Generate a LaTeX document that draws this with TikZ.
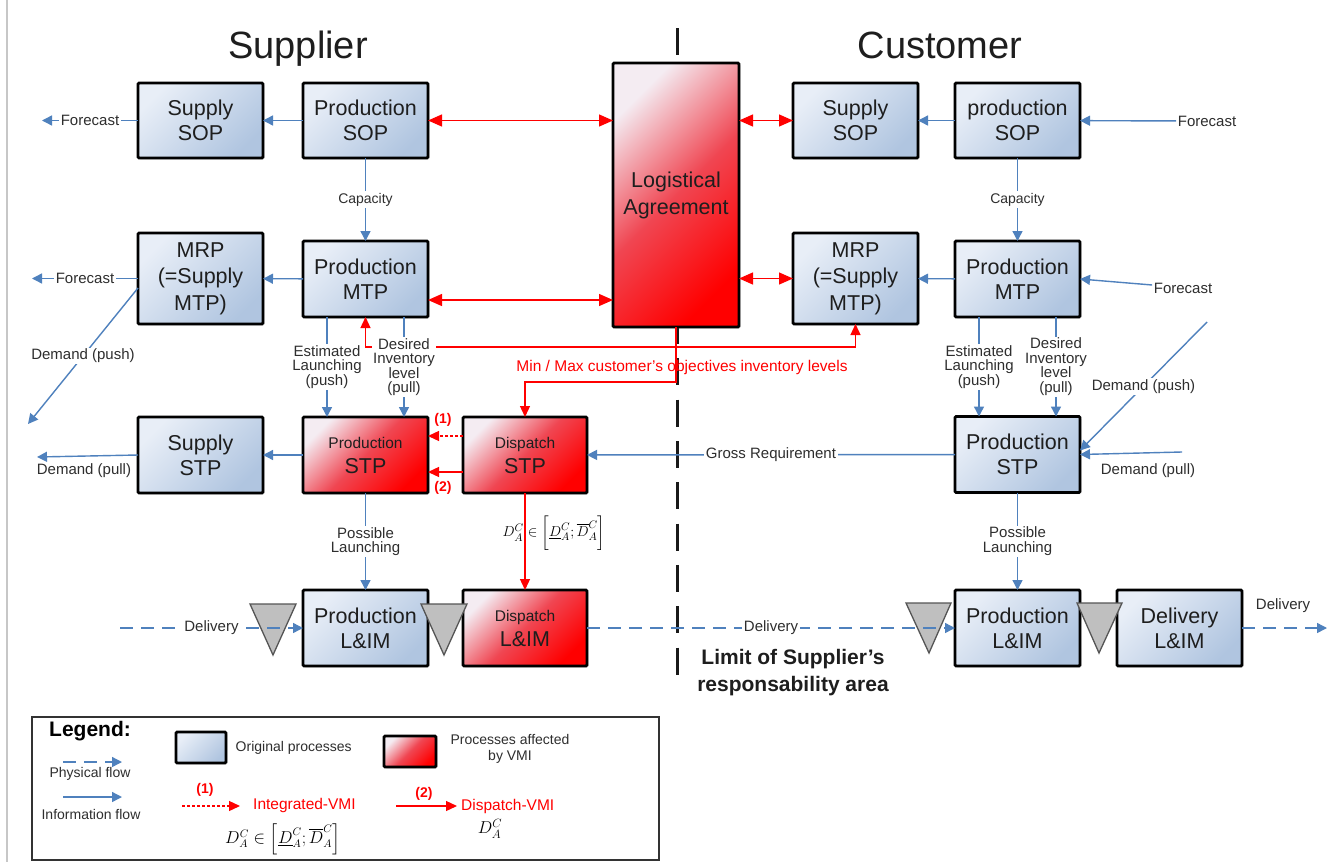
\documentclass[tikz,border=0pt]{standalone}
\usepackage{amsmath}
\usepackage{fontspec}
\setmainfont{Liberation Sans}
\usetikzlibrary{arrows.meta,calc,shadows}
\definecolor{infoblue}{HTML}{4F81BD}
\definecolor{boxlight}{HTML}{E8EEF7}
\definecolor{boxdark}{HTML}{B0C5E0}
\definecolor{redlight}{HTML}{F4ECF2}
\definecolor{redmid}{HTML}{F04652}
\definecolor{vred}{HTML}{FF0000}
\definecolor{txt}{HTML}{1E1E1E}
\definecolor{lbltxt}{HTML}{2E2E2E}
\definecolor{trifill}{HTML}{BFBFBF}
\definecolor{tridraw}{HTML}{555555}
\begin{document}
\begin{tikzpicture}[x=1pt,y=-1pt,
  proc/.style={draw=black, line width=2.8pt, rounded corners=1.2pt, inner sep=0pt, outer sep=0pt,
    align=center, text=txt, top color=boxlight, bottom color=boxdark, shading angle=45,
    font=\fontsize{21.5}{25}\selectfont,
    drop shadow={shadow xshift=1.5pt, shadow yshift=-1.5pt, opacity=0.25}},
  vmi/.style={proc, top color=redlight, bottom color=vred, middle color=redmid, shading angle=45},
  boxsz/.style={minimum width=125pt, minimum height=76pt},
  lbl/.style={font=\fontsize{15}{14.5}\selectfont, text=lbltxt, fill=white, inner sep=1.5pt, align=center},
  lblnf/.style={font=\fontsize{15}{14.5}\selectfont, text=lbltxt, inner sep=1.5pt, align=center},
  info/.style={draw=infoblue, line width=1.4pt, -{Triangle[length=10pt,width=10pt]}},
  phys/.style={info, dash pattern=on 13pt off 8pt},
  rarr/.style={draw=vred, line width=1.3pt, -{Triangle[length=11pt,width=10pt]}},
  rdash/.style={rarr, dash pattern=on 3pt off 2pt},
  rboth/.style={draw=vred, line width=1.3pt, {Triangle[length=14pt,width=12pt]}-{Triangle[length=14pt,width=12pt]}},
  trimark/.style={fill=trifill, draw=tridraw, line width=1.3pt, line join=miter},
  rtxt/.style={text=vred, inner sep=1pt},
]
\useasboundingbox (0,0) rectangle (1336,862);
\fill[white] (0,0) rectangle (1336,862);
% page edge
\draw[black!22, line width=1.5pt] (7,0) -- (7,862);
% titles
\node[anchor=base, font=\fontsize{38}{40}\selectfont, text=txt] (tSup) at (298,58) {Supplier};
\node[anchor=base, font=\fontsize{38}{40}\selectfont, text=txt] (tCus) at (940,58) {Customer};
% limit of responsibility
\draw[black!90, line width=3pt, dash pattern=on 27pt off 14.3pt] (677,28) -- (677,675);

% ---- boxes
\node[proc, boxsz, minimum height=75pt] (sSOP) at (200.5,120.5) {Supply\\SOP};
\node[proc, boxsz, minimum height=75pt] (pSOP) at (365.5,120.5) {Production\\SOP};
\node[proc, boxsz, minimum height=91pt, font=\fontsize{21.5}{26.5}\selectfont] (sMRP) at (200.5,278.5) {MRP\\(=Supply\\MTP)};
\node[proc, boxsz] (pMTP) at (365.5,279) {Production\\MTP};
\node[proc, boxsz] (sSTP) at (200.5,455) {Supply\\STP};
\node[vmi, boxsz] (pSTP) at (365.5,455) {{\fontsize{15.5}{17}\selectfont Production}\\STP};
\node[vmi, boxsz, minimum width=124pt] (dSTP) at (525,455) {{\fontsize{15.5}{17}\selectfont Dispatch}\\STP};
\node[proc, boxsz] (pLIM) at (365.5,628) {Production\\L\&IM};
\node[vmi, boxsz, minimum width=124pt] (dLIM) at (525,628) {{\fontsize{15.5}{17}\selectfont Dispatch}\\L\&IM};
\node[vmi, minimum width=126pt, minimum height=264pt] (LA) at (676,195) {Logistical\\[2pt]Agreement};
\node[proc, boxsz, minimum height=75pt] (cSSOP) at (855.5,120.5) {Supply\\SOP};
\node[proc, boxsz, minimum height=75pt] (cPSOP) at (1017.5,120.5) {production\\SOP};
\node[proc, boxsz, minimum height=91pt, font=\fontsize{21.5}{26.5}\selectfont] (cMRP) at (855.5,278.5) {MRP\\(=Supply\\MTP)};
\node[proc, boxsz] (cPMTP) at (1017.5,279) {Production\\MTP};
\node[proc, boxsz] (cPSTP) at (1017.5,454.5) {Production\\STP};
\node[proc, boxsz] (cPLIM) at (1017.5,628) {Production\\L\&IM};
\node[proc, boxsz] (cDLIM) at (1179.5,628) {Delivery\\L\&IM};

% ---- stock triangles
\draw[trimark] (250,604) -- (296,604) -- (273,655) -- cycle;
\draw[trimark] (421,604) -- (467,604) -- (444,655) -- cycle;
\draw[trimark] (906,603) -- (951,603) -- (929,653) -- cycle;
\draw[trimark] (1077,603) -- (1122,603) -- (1099,653) -- cycle;

% ---- red (VMI) connectors
\draw[rboth] (pSOP.east) -- (LA.west |- pSOP.east);
\coordinate (r2a) at ([yshift=-21pt]pMTP.east);
\draw[rboth] (r2a) -- (r2a -| LA.west);
\draw[rboth] (LA.east |- cSSOP.west) -- (cSSOP.west);
\draw[rboth] (LA.east |- cMRP.west) -- (cMRP.west);
\coordinate (rj) at ([yshift=-20pt]LA.south);
\coordinate (rk) at ([yshift=-55pt]LA.south);
\draw[rarr] (LA.south) -- (rk) -| (dSTP.north);
\draw[rarr] (rj) -| (pMTP.south);
\draw[rarr] (rj) -| (cMRP.south);
\node[rtxt, font=\fontsize{15.5}{18}\selectfont] (mm) at (682,367) {Min / Max customer's objectives inventory levels};
\coordinate (v1) at ([yshift=19pt]dSTP.west);
\draw[rdash] (v1) -- (v1 -| pSTP.east);
\coordinate (v2) at ([yshift=-17pt]dSTP.west);
\draw[rarr] (v2) -- (v2 -| pSTP.east);
\node[rtxt, font=\bfseries\fontsize{14}{16}\selectfont] (n1) at (443,420) {(1)};
\node[rtxt, font=\bfseries\fontsize{14}{16}\selectfont] (n2) at (443,488) {(2)};
\draw[rarr] (dSTP) -- (dLIM);
\node[text=black, inner sep=0pt, font=\fontsize{15}{18}\selectfont] (fm) at (554,533) {$D_A^C \in \biggl[\underline{D}_A^C;\overline{D}_A^C\biggr]$};

% ---- supplier information flows
\coordinate (fcL1) at (42,120.5);
\coordinate (fcL2) at (32,278.5);
\coordinate (dpL) at (28,424);
\coordinate (dlL) at (37,457);
\draw[info] (pSOP) -- (sSOP);
\draw[info] (sSOP) -- node[lbl]{Forecast} (fcL1);
\draw[info] (pSOP) -- node[lbl, font=\fontsize{14}{14}\selectfont]{Capacity} (pMTP);
\draw[info] (pMTP) -- (sMRP);
\draw[info] (sMRP) -- node[lbl]{Forecast} (fcL2);
\draw[info] ([yshift=-9.5pt]sMRP.west) -- node[lbl]{Demand (push)} (dpL);
\draw[info] (sSTP.west) -- (dlL);
\node[lblnf] (dlLt) at (84,471) {Demand (pull)};
\draw[info] (pSTP) -- (sSTP);
\draw[info] ([xshift=-38.5pt]pMTP.south) -- node[lbl]{Estimated\\Launching\\(push)} ([xshift=-38.5pt]pSTP.north);
\draw[info] ([xshift=38.5pt]pMTP.south) -- node[lbl]{Desired\\Inventory\\level\\(pull)} ([xshift=38.5pt]pSTP.north);
\draw[info] (pSTP) -- node[lbl]{Possible\\Launching} (pLIM);
\draw[info] (cPSTP) -- node[lbl]{Gross Requirement} (dSTP);

% ---- customer information flows
\node[lblnf] (fcR1) at (1207,121) {Forecast};
\node[lblnf] (fcR2) at (1183,288) {Forecast};
\coordinate (dpR) at (1207,322);
\coordinate (dlR) at (1182,452);
\draw[info] (cPSOP) -- (cSSOP);
\draw[info] (fcR1) -- (cPSOP);
\draw[info] (cPSOP) -- node[lbl, font=\fontsize{14}{14}\selectfont]{Capacity} (cPMTP);
\draw[info] (cPMTP) -- (cMRP);
\draw[info] ([yshift=3pt]fcR2.west) -- (cPMTP.east);
\draw[info] ([xshift=-38.5pt]cPMTP.south) -- node[lbl]{Estimated\\Launching\\(push)} ([xshift=-38.5pt]cPSTP.north);
\draw[info] ([xshift=38.5pt]cPMTP.south) -- node[lbl]{Desired\\Inventory\\level\\(pull)} ([xshift=38.5pt]cPSTP.north);
\draw[info] (dpR) -- node[lbl]{Demand (push)} ([yshift=4pt]cPSTP.east);
\draw[info] (dlR) -- (cPSTP.east);
\node[lblnf] (dlRt) at (1148,471) {Demand (pull)};
\draw[info] (cPSTP) -- node[lbl]{Possible\\Launching} (cPLIM);

% ---- physical flows
\coordinate (dl0) at (120,628);
\coordinate (dlE) at (1327,628);
\draw[phys] (dl0) -- node[lbl]{Delivery} (pLIM);
\draw[phys] (dLIM) -- node[lbl]{Delivery} (cPLIM);
\draw[phys] (cDLIM) -- (dlE);
\node[lblnf] (dlEt) at (1283,606) {Delivery};

\node[font=\bfseries\fontsize{21}{27}\selectfont, text=txt, align=center] (lim) at (793,673) {Limit of Supplier’s\\responsability area};

% ---- legend
\draw[black!80, line width=1.3pt] (32,717) rectangle (659,860);
\node[font=\bfseries\fontsize{21}{24}\selectfont, text=black, inner sep=0pt] (legT) at (90,731) {Legend:};
\coordinate (lpa) at (63,762); \coordinate (lpb) at (122,762);
\draw[phys] (lpa) -- (lpb);
\node[lblnf, font=\fontsize{14}{16}\selectfont] (lpt) at (90,774) {Physical flow};
\coordinate (lia) at (63,797); \coordinate (lib) at (122,797);
\draw[info] (lia) -- (lib);
\node[lblnf, font=\fontsize{14}{16}\selectfont] (lit) at (91,814) {Information flow};
\node[proc, minimum width=50pt, minimum height=31pt] (legB) at (201,747.5) {};
\node[lblnf, anchor=west, font=\fontsize{14}{16}\selectfont] (legBt) at (234,748) {Original processes};
\node[vmi, minimum width=52pt, minimum height=31pt] (legR) at (410,751.5) {};
\node[lblnf, font=\fontsize{14}{16}\selectfont] (legRt) at (510,749) {Processes affected\\by VMI};
\node[rtxt, font=\bfseries\fontsize{14}{16}\selectfont] (l1) at (205,790) {(1)};
\coordinate (l1a) at (182,806); \coordinate (l1b) at (240,806);
\draw[rdash] (l1a) -- (l1b);
\node[rtxt, anchor=west, inner sep=0pt, font=\fontsize{15.5}{18}\selectfont] (l1t) at (253,805) {Integrated-VMI};
\node[text=black, inner sep=0pt, font=\fontsize{16}{20}\selectfont] (l1f) at (283,839) {$D_A^C \in \Bigl[\underline{D}_A^C;\overline{D}_A^C\Bigr]$};
\node[rtxt, font=\bfseries\fontsize{14}{16}\selectfont] (l2) at (424,794) {(2)};
\coordinate (l2a) at (396,806); \coordinate (l2b) at (457,806);
\draw[rarr] (l2a) -- (l2b);
\node[rtxt, anchor=west, font=\fontsize{15.5}{18}\selectfont] (l2t) at (460,806) {Dispatch-VMI};
\node[text=black, font=\fontsize{18}{20}\selectfont] (l2f) at (490,829) {$D_A^C$};
\end{tikzpicture}
\end{document}
